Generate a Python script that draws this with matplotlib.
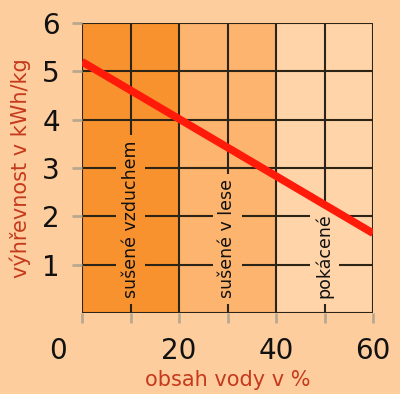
import matplotlib
matplotlib.use("Agg")
import matplotlib.pyplot as plt
import matplotlib.transforms as mtransforms
from matplotlib.patches import Rectangle

# Data
x_line = [0, 60]
y_line = [5.2, 1.65]
zones = [(0, 20), (20, 40), (40, 60)]
zone_colors = ["#F8922E", "#FDB46E", "#FFD4A8"]
zone_labels = ["sušené vzduchem", "sušené v lese", "pokácené"]
zone_label_x = [10, 30, 50]
xticks = [0, 20, 40, 60]
yticks = [1, 2, 3, 4, 5, 6]

bg = "#FECD9E"
fig = plt.figure(figsize=(4.0, 3.94), dpi=100, facecolor=bg)
ax = fig.add_axes([0.205, 0.2056, 0.7275, 0.736])
ax.set_facecolor(bg)
ax.set_xlim(0, 60)
ax.set_ylim(0, 6)

for (a, b), c in zip(zones, zone_colors):
    ax.add_patch(Rectangle((a, 0), b - a, 6, facecolor=c, edgecolor="none", zorder=0))

gridc = "#2B2417"
for xv in range(0, 61, 10):
    ax.axvline(xv, color=gridc, lw=1.5, zorder=1)
for yv in range(0, 7):
    ax.axhline(yv, color=gridc, lw=1.5, zorder=1)

for s in ax.spines.values():
    s.set_visible(False)

for xl, lab, c in zip(zone_label_x, zone_labels, zone_colors):
    ax.text(xl, 0.3, lab, rotation=90, ha="center", va="bottom", fontsize=12.5,
            color="#111111", zorder=2,
            bbox=dict(facecolor=c, edgecolor="none", pad=4))

ax.plot(x_line, y_line, color="#FF1A0A", lw=5.5, solid_capstyle="butt", zorder=3)

ax.set_xticks(range(0, 61, 10))
ax.set_xticklabels([str(v) if v in xticks else "" for v in range(0, 61, 10)])
ax.set_yticks(yticks)
ax.set_yticklabels([str(v) for v in yticks])
ax.tick_params(axis="both", direction="out", length=7, width=2, color="#B8A890",
               labelsize=20, labelcolor="#111111")
ax.tick_params(axis="x", pad=10)
ax.tick_params(axis="y", pad=9)
# shift "0" label left
for t in ax.get_xticklabels():
    if t.get_text() == "0":
        t.set_transform(t.get_transform() + mtransforms.ScaledTranslation(-0.24, 0, fig.dpi_scale_trans))

ax.set_xlabel("obsah vody v %", fontsize=15, color="#C53A1C", labelpad=4)
ax.set_ylabel("výhřevnost v kWh/kg", fontsize=15, color="#C53A1C", labelpad=8)

fig.savefig("out.png", dpi=100, facecolor=bg)
